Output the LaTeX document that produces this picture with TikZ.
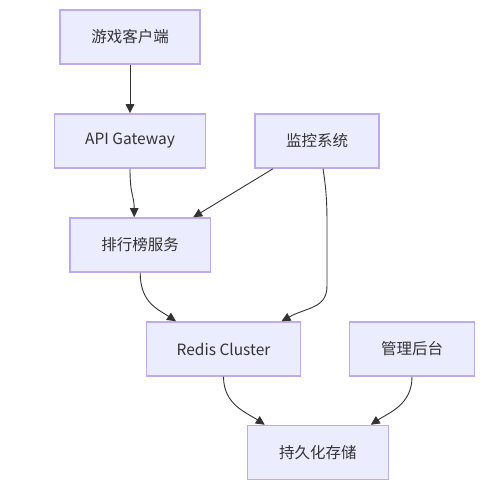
\documentclass[tikz,border=0pt]{standalone}
\usepackage{fontspec}
\setmainfont{Noto Sans CJK SC}
\usetikzlibrary{arrows.meta,calc}
\definecolor{nodefill}{HTML}{ECECFF}
\definecolor{nodeborder}{HTML}{BFAAEE}
\definecolor{edgecol}{HTML}{333333}
\tikzset{
  box/.style={draw=nodeborder, fill=nodefill, line width=1.5bp, minimum height=54bp, inner sep=0pt, font=\fontsize{15.5bp}{18bp}\selectfont, text=edgecol},
  edge/.style={draw=edgecol, line width=0.9bp, -{Triangle[length=9bp,width=8.5bp]}}
}
\begin{document}
\begin{tikzpicture}[x=1bp,y=-1bp]
\useasboundingbox (0,0) rectangle (504,493);
\node[box, minimum width=140bp] (client) at (130,37) {游戏客户端};
\node[box, minimum width=150.6bp] (api) at (130,141) {API Gateway};
\node[box, minimum width=124.3bp] (mon) at (317,141) {监控系统};
\node[box, minimum width=140.3bp] (rank) at (140.2,245) {排行榜服务};
\node[box, minimum width=153.6bp] (redis) at (223.5,349) {Redis Cluster};
\node[box, minimum width=124.6bp] (admin) at (412,349) {管理后台};
\node[box, minimum width=141bp] (store) at (317.8,452.5) {持久化存储};

\draw[edge] (client.south) -- (api.north);
\draw[edge] (api.south) .. controls ($(api.south)+(0,27)$) and ($([xshift=-6bp]rank.north)+(0,-22)$) .. ([xshift=-6bp]rank.north);
\draw[edge] ([xshift=-44bp]mon.south) -- ([xshift=53bp]rank.north);
\draw[edge] ([xshift=6bp]mon.south) .. controls ($(mon.south)+(10,25)$) and ($(mon.south)+(10,40)$) .. ($(mon.south)+(10,62)$) -- ($(mon.south)+(10,117)$) .. controls ($(mon.south)+(10,140)$) and ($([xshift=58bp]redis.north)+(25,-14)$) .. ([xshift=58bp]redis.north);
\draw[edge] (rank.south) .. controls ($(rank.south)+(0,30)$) and ($([xshift=-47.5bp]redis.north)+(-18,-12)$) .. ([xshift=-47.5bp]redis.north);
\draw[edge] (redis.south) .. controls ($(redis.south)+(0,28)$) and ($([xshift=-53bp]store.north)+(-18,-12)$) .. ([xshift=-53bp]store.north);
\draw[edge] (admin.south) .. controls ($(admin.south)+(0,28)$) and ($([xshift=53bp]store.north)+(18,-12)$) .. ([xshift=53bp]store.north);
\end{tikzpicture}
\end{document}
